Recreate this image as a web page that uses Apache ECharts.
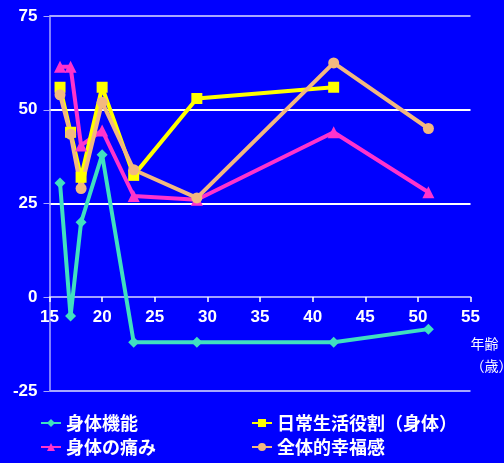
<!DOCTYPE html>
<html>
<head>
<meta charset="utf-8">
<script src="https://cdn.jsdelivr.net/npm/echarts@6/dist/echarts.min.js"></script>
<style>
  html, body { margin: 0; padding: 0; background: #0000ff; }
  #chart { width: 504px; height: 463px; }
</style>
</head>
<body>
<div id="chart"></div>
<script>
// 年齢と各スコア
const agesKinou = [16, 17, 18, 20, 23, 29, 42, 51];
const kinou = [30.5, -5, 20, 38, -12, -12, -12, -8.5];

const agesItami = [16, 17, 18, 20, 23, 29, 42, 51];
const itami = [61.5, 61.5, 40.5, 44.5, 27, 26, 44, 28];

const agesYakuwari = [16, 17, 18, 20, 23, 29, 42];
const yakuwari = [56, 44, 32, 56, 32.5, 53, 56];

const agesKoufuku = [16, 17, 18, 20, 23, 29, 42, 51];
const koufuku = [54, 43.5, 29, 52, 34, 26.5, 62.5, 45];

const seriesNames = ['身体機能', '日常生活役割（身体）', '身体の痛み', '全体的幸福感'];

const pairs = (xs, ys) => xs.map((x, i) => [x, ys[i]]);

const chart = echarts.init(document.getElementById('chart'));
const lav = '#a8a8ff';
const legendText = { color: '#fff', fontSize: 18, fontWeight: 'bold', lineHeight: 20,
  fontFamily: 'Noto Sans CJK JP' };

chart.setOption({
  backgroundColor: '#0000ff',
  animation: false,
  grid: { left: 49.5, right: 33.5, top: 16, bottom: 72, outerBoundsMode: 'none', containLabel: false },
  legend: [
    {
      data: [seriesNames[0], seriesNames[2]],
      orient: 'vertical', left: 35, top: 408, height: 54, itemGap: 4,
      itemWidth: 20, itemHeight: 10, textStyle: legendText
    },
    {
      data: [seriesNames[1], seriesNames[3]],
      orient: 'vertical', left: 246, top: 408, height: 54, itemGap: 4,
      itemWidth: 20, itemHeight: 10, textStyle: legendText
    }
  ],
  xAxis: {
    type: 'value', min: 15, max: 55, interval: 5,
    // 0 の位置まで軸を持ち上げる
    offset: -94,
    name: '年齢\n（歳）', nameLocation: 'end', nameGap: 0, nameMoveOverlap: false,
    nameTextStyle: { color: '#fff', fontSize: 14, align: 'left', verticalAlign: 'top',
      padding: [36, 0, 0, 0], lineHeight: 22, fontFamily: 'Noto Sans CJK JP' },
    axisLine: { onZero: false, lineStyle: { color: '#d8d8ff', width: 1.5 } },
    axisTick: { show: true, inside: false, length: 5, lineStyle: { color: '#fff', width: 1.5 } },
    axisLabel: { color: '#fff', fontSize: 17, fontWeight: 'bold', margin: 12,
      fontFamily: 'Liberation Sans' },
    splitLine: { show: false }
  },
  yAxis: {
    type: 'value', min: -25, max: 75, interval: 25,
    axisLine: { show: true, lineStyle: { color: lav, width: 1.5 } },
    axisTick: { show: true, length: 6, lineStyle: { color: lav } },
    axisLabel: { color: '#fff', fontSize: 17, fontWeight: 'bold', margin: 12,
      fontFamily: 'Liberation Sans' },
    splitLine: {
      show: true,
      lineStyle: { color: [lav, 'rgba(0,0,0,0)', '#ffffff', '#ffffff', lav], width: 2 }
    }
  },
  series: [
    {
      name: seriesNames[0], type: 'line', data: pairs(agesKinou, kinou),
      symbol: 'diamond', symbolSize: 11,
      lineStyle: { color: '#40e0c0', width: 4 },
      itemStyle: { color: '#40e0c0' }
    },
    {
      name: seriesNames[2], type: 'line', data: pairs(agesItami, itami),
      symbol: 'triangle', symbolSize: 12,
      lineStyle: { color: '#ff33cc', width: 4 },
      itemStyle: { color: '#ff33cc' }
    },
    {
      name: seriesNames[1], type: 'line', data: pairs(agesYakuwari, yakuwari),
      symbol: 'rect', symbolSize: 11,
      lineStyle: { color: '#ffff00', width: 4 },
      itemStyle: { color: '#ffff00' }
    },
    {
      name: seriesNames[3], type: 'line', data: pairs(agesKoufuku, koufuku),
      symbol: 'circle', symbolSize: 11,
      lineStyle: { color: '#f2b880', width: 4 },
      itemStyle: { color: '#f2b880' }
    }
  ]
});
</script>
</body>
</html>
